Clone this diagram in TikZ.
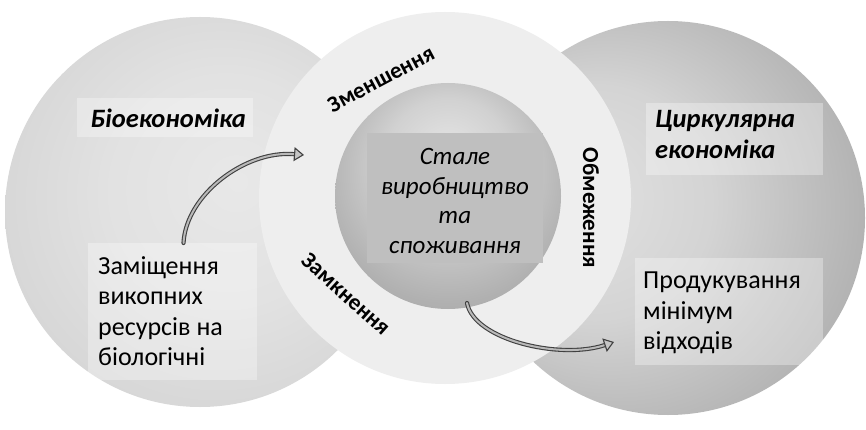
\documentclass[tikz,border=0pt]{standalone}
\usepackage{fontspec}
\setmainfont{Carlito}
\usetikzlibrary{arrows.meta}

% grey tones
\definecolor{bioA}{gray}{0.91}
\definecolor{bioB}{gray}{0.885}
\definecolor{bioC}{gray}{0.845}
\definecolor{circA}{gray}{0.89}
\definecolor{circB}{gray}{0.83}
\definecolor{circC}{gray}{0.70}
\definecolor{circD}{gray}{0.62}
\definecolor{ringgray}{gray}{0.935}
\definecolor{ballA}{gray}{0.89}
\definecolor{ballB}{gray}{0.82}
\definecolor{ballC}{gray}{0.69}
\definecolor{ballD}{gray}{0.61}
\definecolor{corebox}{gray}{0.75}

% shaded discs (the disc edge lies at 25bp)
\pgfdeclareradialshading{bioshade}{\pgfpoint{5bp}{4bp}}{%
  color(0bp)=(bioA); color(15bp)=(bioB); color(27bp)=(bioC); color(45bp)=(bioC)}
\pgfdeclareradialshading{circshade}{\pgfpoint{-14bp}{3bp}}{%
  color(0bp)=(circA); color(15bp)=(circB); color(30bp)=(circC); color(45bp)=(circD)}
\pgfdeclareradialshading{ballshade}{\pgfpoint{0bp}{11bp}}{%
  color(0bp)=(ballA); color(14bp)=(ballB); color(28bp)=(ballC); color(45bp)=(ballD)}

\tikzset{
  boxbase/.style={inner sep=0pt, outer sep=0pt},
  lightbox/.style={boxbase, fill=white, fill opacity=0.32, text opacity=1},
  greybox/.style={boxbase, fill=corebox},
  coretext/.style={font=\fontsize{25}{29.5}\selectfont\itshape, align=center},
  bodytext/.style={font=\fontsize{26}{30.5}\selectfont, align=left},
  headtext/.style={font=\fontsize{26.5}{31}\selectfont\bfseries\itshape, align=left},
  ringlabel/.style={font=\fontsize{23}{24}\selectfont\bfseries, inner sep=0pt},
  flow/.style={draw=black!75, line width=1.1pt, double=gray!55!white,
    double distance=2pt, line cap=round,
    -{Triangle[open, length=10pt, width=14pt, line width=1.1pt, fill=gray!45!white]}},
}

\begin{document}
\begin{tikzpicture}[x=1pt, y=-1pt]
  \useasboundingbox (0,0) rectangle (866,430);
  \fill[white] (0,0) rectangle (866,430);

  % the two outer domains
  \shade[shading=bioshade] (200,212) circle (195pt);
  \shade[shading=circshade] (668,218) circle (197pt);

  % ring and central disc
  \fill[ringgray] (445,198) circle (186pt);
  \shade[shading=ballshade] (448,196) circle (113pt);

  % text boxes
  \node[greybox, minimum width=176pt, minimum height=130pt] (core) at (455,198) {};
  \node[coretext] (coreT) at (455,201) {Стале\\виробництво\\та\\споживання};

  \node[lightbox, minimum width=176pt, minimum height=39pt] (bio) at (165,117.5) {};
  \node[headtext, anchor=base west] (bioT) at (87,128) {Біоекономіка};

  \node[lightbox, minimum width=169pt, minimum height=137pt] (subst) at (172.5,311.5) {};
  \node[bodytext, anchor=north west, inner sep=0pt] (substT) at (98,256)
    {Заміщення\\викопних\\ресурсів на\\біологічні};

  \node[lightbox, minimum width=177pt, minimum height=72pt] (circ) at (734.5,139) {};
  \node[headtext, anchor=north west, inner sep=0pt] (circT) at (655,110)
    {Циркулярна\\економіка};

  \node[lightbox, minimum width=188pt, minimum height=107pt] (waste) at (729,311.5) {};
  \node[bodytext, anchor=north west, inner sep=0pt] (wasteT) at (643,272)
    {Продукування\\мінімум\\відходів};

  % labels on the ring
  \node[ringlabel, rotate=28] (reduce) at (381,79) {Зменшення};
  \node[ringlabel, rotate=-90] (limit) at (591,208) {Обмеження};
  \node[ringlabel, rotate=-42] (closing) at (346,294) {Замкнення};

  % connectors
  \coordinate (bioEnd) at (304,155);
  \coordinate (coreOut) at (467,303);
  \coordinate (circEnd) at (614,342);
  \draw[flow] ([xshift=11pt]subst.north) .. controls (186,195) and (245,150) .. (bioEnd);
  \draw[flow] (coreOut) .. controls (474,340) and (560,360) .. (circEnd);
\end{tikzpicture}
\end{document}
